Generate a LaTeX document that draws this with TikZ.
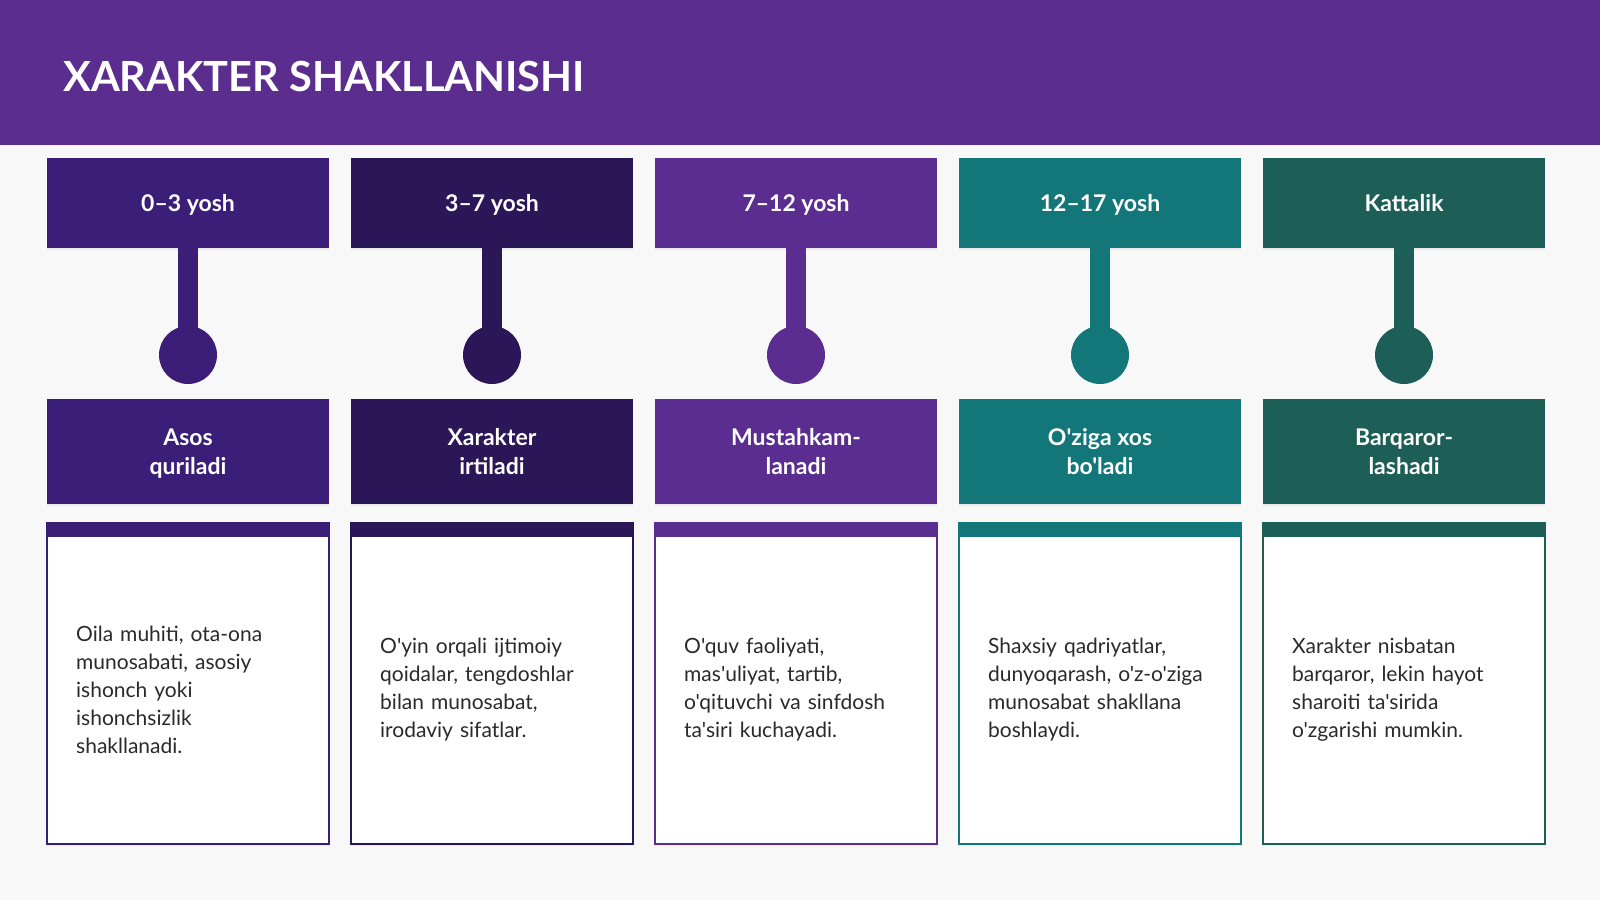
\documentclass[tikz,border=0pt]{standalone}
\usepackage{fontspec}
\setmainfont{Lato}[Ligatures=TeXOff]
\usetikzlibrary{shadows}
\definecolor{bgc}{HTML}{F8F8F8}
\definecolor{headc}{HTML}{5B2D8E}
\definecolor{cA}{HTML}{3B1E77}
\definecolor{cB}{HTML}{2B1657}
\definecolor{cC}{HTML}{5B2D90}
\definecolor{cD}{HTML}{13777A}
\definecolor{cE}{HTML}{1D5E56}
\definecolor{txtc}{HTML}{2A2A2A}
\tikzset{
  agebox/.style={rectangle, fill=#1, text=white, minimum width=282pt, minimum height=90pt,
    inner sep=0pt, text depth=0pt, font=\bfseries\fontsize{23}{28.5}\selectfont, align=center,
    drop shadow={shadow xshift=0pt, shadow yshift=-2pt, opacity=.12}},
  stagebox/.style={agebox=#1, minimum height=105pt},
  dot/.style={circle, fill=#1, minimum size=58pt, inner sep=0pt},
  card/.style={rectangle, draw=#1, line width=2pt, fill=white, minimum width=282pt,
    minimum height=321pt, inner sep=0pt,
    drop shadow={shadow xshift=0pt, shadow yshift=-2pt, opacity=.10}},
  cardtext/.style={anchor=west, text=txtc, text width=240pt, align=left, inner sep=0pt,
    font=\fontsize{21}{28}\selectfont}
}
\begin{document}
\begin{tikzpicture}[x=1pt, y=-1pt]
  \fill[bgc] (0,0) rectangle (1600,900);
  \useasboundingbox (0,0) rectangle (1600,900);
  \fill[headc] (0,0) rectangle (1600,145);
  \node[anchor=west, inner sep=0pt, text=white, font=\bfseries\fontsize{41.5}{50}\selectfont]
    (title) at (63,76) {XARAKTER SHAKLLANISHI};
  % bosqichlar
  \foreach \i/\cl/\age/\stage/\txt in {
    0/cA/{0–3 yosh}/{Asos\\quriladi}/{Oila muhiti, ota-ona\\munosabati, asosiy\\ishonch yoki\\ishonchsizlik\\shakllanadi.},
    1/cB/{3–7 yosh}/{Xarakter\\irtiladi}/{O'yin orqali ijtimoiy\\qoidalar, tengdoshlar\\bilan munosabat,\\irodaviy sifatlar.},
    2/cC/{7–12 yosh}/{Mustahkam-\\lanadi}/{O'quv faoliyati,\\mas'uliyat, tartib,\\o'qituvchi va sinfdosh\\ta'siri kuchayadi.},
    3/cD/{12–17 yosh}/{O'ziga xos\\bo'ladi}/{Shaxsiy qadriyatlar,\\dunyoqarash, o'z-o'ziga\\munosabat shakllana\\boshlaydi.},
    4/cE/{Kattalik}/{Barqaror-\\lashadi}/{Xarakter nisbatan\\barqaror, lekin hayot\\sharoiti ta'sirida\\o'zgarishi mumkin.}} {
    \node[agebox=\cl] (t\i) at ({188+304*\i},203) {\age};
    \node[dot=\cl] (c\i) at ({188+304*\i},355) {};
    \draw[\cl, line width=20pt] (t\i.south) -- (c\i.center);
    \node[stagebox=\cl] (m\i) at ({188+304*\i},451.5) {\stage};
    \node[card=\cl] (k\i) at ({188+304*\i},683.5) {};
    \fill[\cl] (k\i.north west) rectangle ([yshift=-15pt]k\i.north east);
    \node[cardtext] (d\i) at ({76+304*\i},690) {\txt};
  }
\end{tikzpicture}
\end{document}
